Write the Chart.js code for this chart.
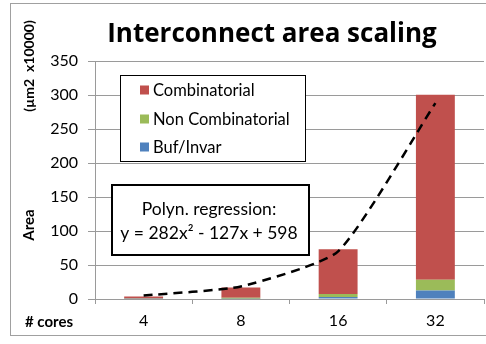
<!DOCTYPE html>
<html>
<head>
<meta charset="utf-8">
<script src="https://cdn.jsdelivr.net/npm/chart.js@4.4.1/dist/chart.umd.min.js"></script>
<style>
html,body{margin:0;padding:0;background:#fff;}
#wrap{position:relative;width:486px;height:344px;}
</style>
</head>
<body>
<div id="wrap"><canvas id="c" width="486" height="344"></canvas></div>
<script>
const categories = ['4', '8', '16', '32'];
const combinatorial = [3.2, 15, 66, 272];
const nonCombinatorial = [0.4, 1.5, 4.4, 15.7];
const bufInvar = [0.2, 0.5, 2.9, 12.6];
const trendValues = [5, 18.5, 70, 288];
const yTicks = [0, 50, 100, 150, 200, 250, 300, 350];
const seriesNames = ['Combinatorial', 'Non Combinatorial', 'Buf/Invar'];
const seriesColors = ['#C0504D', '#9BBB59', '#4F81BD'];
const titleText = 'Interconnect area scaling';
const yTitleTop = '(\u00b5m2  x10000)';
const yTitleBottom = 'Area';
const xTitle = '# cores';
const regressionLines = ['Polyn. regression:', 'y = 282x\u00b2 - 127x + 598'];

const FONT = 'Lato, "Open Sans", sans-serif';
const TITLE_FONT = '"Open Sans", Lato, sans-serif';
const GRID = '#9a9a9a';

const decorPlugin = {
  id: 'decor',
  beforeDraw(chart) {
    const ctx = chart.ctx;
    ctx.save();
    ctx.fillStyle = '#fff';
    ctx.fillRect(0, 0, chart.width, chart.height);
    ctx.strokeStyle = '#a0a0a0';
    ctx.lineWidth = 1;
    ctx.strokeRect(10.5, 3.5, 490, 332);
    ctx.restore();
  },
  afterDraw(chart) {
    const ctx = chart.ctx;
    ctx.save();
    // title
    ctx.fillStyle = '#000';
    ctx.font = 'bold 26px ' + TITLE_FONT;
    ctx.textAlign = 'center';
    ctx.textBaseline = 'alphabetic';
    ctx.fillText(titleText, 272, 42);
    // y titles (rotated)
    ctx.font = 'bold 14px ' + FONT;
    ctx.textBaseline = 'middle';
    ctx.save();
    ctx.translate(29, 66);
    ctx.rotate(-Math.PI / 2);
    ctx.fillText(yTitleTop, 0, 0);
    ctx.restore();
    ctx.save();
    ctx.translate(29, 225);
    ctx.rotate(-Math.PI / 2);
    ctx.font = 'bold 15px ' + FONT;
    ctx.fillText(yTitleBottom, 0, 0);
    ctx.restore();
    // x title
    ctx.textAlign = 'left';
    ctx.font = 'bold 15px ' + FONT;
    ctx.fillText(xTitle, 25, 322);
    // legend box
    ctx.fillStyle = '#fff';
    ctx.fillRect(121, 75, 185, 87);
    ctx.strokeStyle = '#000';
    ctx.lineWidth = 1;
    ctx.strokeRect(120.5, 75.5, 185, 86);
    ctx.font = '16.5px ' + FONT;
    ctx.textBaseline = 'middle';
    const rows = [90, 119, 147];
    chart.data.datasets.forEach((ds, i) => {
      if (ds.type === 'line') return;
      ctx.fillStyle = ds.backgroundColor;
      ctx.fillRect(140, rows[i] - 4.5, 9, 9);
      ctx.fillStyle = '#000';
      ctx.fillText(ds.label, 153, rows[i] + 0.5);
    });
    // regression box
    ctx.fillStyle = '#fff';
    ctx.fillRect(112, 185, 197, 70);
    ctx.strokeStyle = '#000';
    ctx.lineWidth = 2;
    ctx.strokeRect(112, 185, 197, 70);
    ctx.fillStyle = '#000';
    ctx.font = '17.5px ' + FONT;
    ctx.textAlign = 'center';
    ctx.fillText(regressionLines[0], 209, 209);
    ctx.fillText(regressionLines[1], 209, 233);
    ctx.restore();
  }
};

const ctx = document.getElementById('c').getContext('2d');
new Chart(ctx, {
  data: {
    labels: categories,
    datasets: [
      { type: 'bar', label: seriesNames[0], data: combinatorial, backgroundColor: seriesColors[0], stack: 's', order: 3 },
      { type: 'bar', label: seriesNames[1], data: nonCombinatorial, backgroundColor: seriesColors[1], stack: 's', order: 2 },
      { type: 'bar', label: seriesNames[2], data: bufInvar, backgroundColor: seriesColors[2], stack: 's', order: 1 },
      { type: 'line', label: 'trend', data: trendValues, stack: 'trend', borderColor: '#000', borderWidth: 2.5,
        borderDash: [9, 6], pointRadius: 0, tension: 0.18, fill: false, order: 0 }
    ]
  },
  options: {
    responsive: false,
    animation: false,
    devicePixelRatio: 1,
    layout: { padding: { top: 61, right: 2, bottom: 0, left: 0 } },
    datasets: { bar: { categoryPercentage: 1, barPercentage: 0.4 } },
    plugins: { legend: { display: false }, tooltip: { enabled: false }, title: { display: false } },
    scales: {
      x: {
        stacked: true,
        offset: true,
        grid: { display: true, drawOnChartArea: false, drawTicks: true, tickLength: 5, color: GRID, offset: true },
        border: { display: true, color: GRID },
        ticks: { color: '#000', font: { family: FONT, size: 16 }, padding: 7 },
        afterFit(s) { s.height = 45; }
      },
      y: {
        stacked: true,
        min: 0, max: 350,
        afterBuildTicks(s) { s.ticks = yTicks.map(v => ({ value: v })); },
        grid: { color: GRID, tickLength: 7, drawTicks: true },
        border: { display: true, color: GRID },
        ticks: { color: '#000', font: { family: FONT, size: 16 }, padding: 10 },
        afterFit(s) { s.width = 95; }
      }
    }
  },
  plugins: [decorPlugin]
});
</script>
</body>
</html>
